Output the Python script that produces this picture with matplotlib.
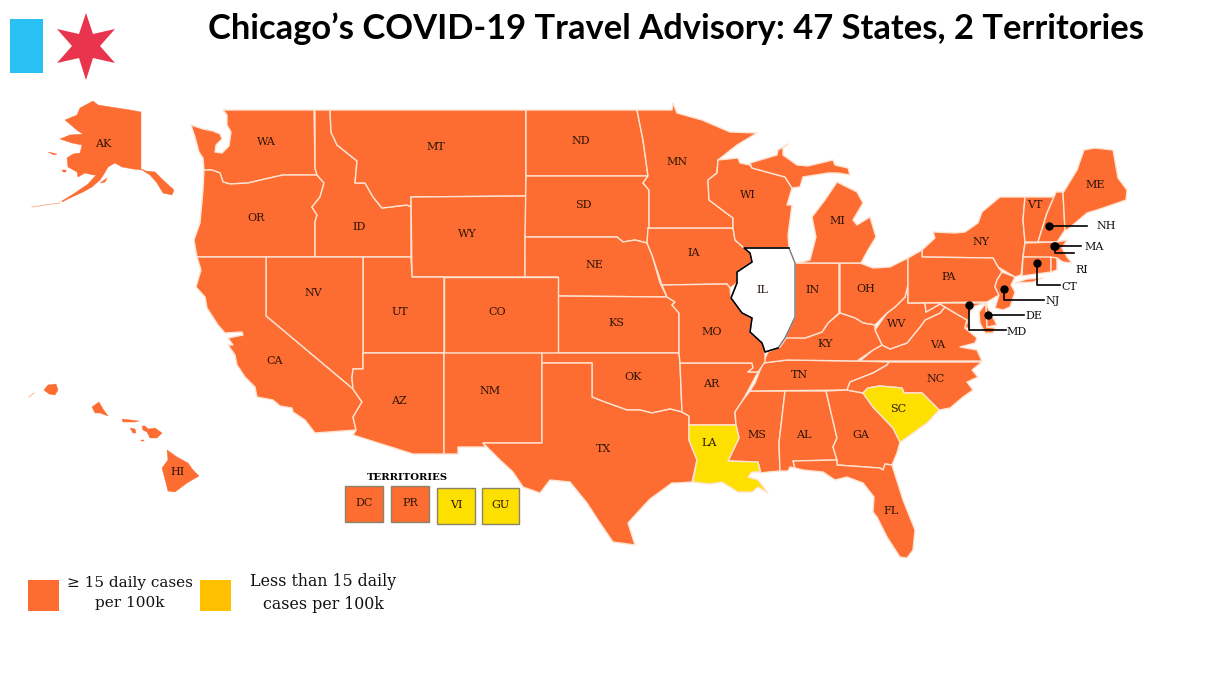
#!/usr/bin/env python3
import matplotlib
matplotlib.use("Agg")
import matplotlib.pyplot as plt
from matplotlib.patches import Rectangle

ORANGE = "#fd6c31"
YELLOW = "#fde000"
BORDER = "#fde3d2"
LABEL = "#2b1408"
SERIF = "DejaVu Serif"

# outlines, in image pixels
WA = [(223,110),(314,110),(315,168),(317,175),(283,175),(265,179),(248,183),(230,184),(223,182),(220,173),(212,170),(204,170),(203,158),(199,152),(195,137),(191,125),(203,129),(213,131),(220,134),(222,139),(216,145),(215,152),(222,153),(229,146),(231,132),(227,125),(227,115)]
OR = [(204,170),(212,170),(220,173),(223,182),(230,184),(248,183),(265,179),(283,175),(317,175),(324,183),(320,197),(312,207),(317,215),(315,222),(315,257),(197,257),(194,240),(200,223),(203,190)]
ID = [(315,110),(330,110),(331,132),(337,145),(357,161),(355,183),(365,183),(373,197),(382,208),(407,205),(411,207),(411,257),(315,257),(315,222),(317,215),(312,207),(320,197),(324,183),(317,175),(315,168)]
MT = [(330,110),(526,110),(526,196),(411,197),(411,207),(407,205),(382,208),(373,197),(365,183),(355,183),(357,161),(337,145),(331,132)]
WY = [(411,197),(526,196),(525,277),(412,277)]
ND = [(526,110),(637,110),(643,140),(648,176),(526,176)]
SD = [(526,176),(648,176),(643,183),(649,190),(649,227),(647,243),(635,240),(623,242),(617,237),(525,237)]
NE = [(525,237),(617,237),(623,242),(635,240),(647,243),(652,255),(660,283),(667,297),(558,296),(558,277),(525,277)]
KS = [(558,296),(667,297),(675,302),(672,305),(679,313),(679,353),(558,353)]
CO = [(444,277),(558,277),(558,353),(444,353)]
UT = [(363,257),(411,257),(412,277),(444,277),(444,353),(363,353)]
NV = [(266,257),(363,257),(363,369),(353,369),(352,378),(353,389),(266,316)]
CA = [(197,257),(266,257),(266,316),(353,389),(362,402),(353,417),(356,430),(315,433),(305,420),(293,412),(292,408),(280,406),(273,400),(257,397),(255,387),(245,377),(237,365),(235,355),(228,345),(233,345),(228,338),(243,335),(242,332),(225,333),(218,325),(207,308),(205,297),(196,287),(201,270)]
AZ = [(363,353),(444,353),(444,454),(413,454),(353,435),(356,430),(353,417),(362,402),(353,389),(352,378),(353,369),(363,369)]
NM = [(444,353),(542,353),(542,443),(483,443),(486,447),(458,447),(458,454),(444,454)]
OK = [(542,353),(679,353),(680,363),(682,412),(670,409),(652,413),(640,410),(627,410),(613,405),(602,401),(592,397),(592,363),(542,363)]
TX = [(542,363),(592,363),(592,397),(602,401),(613,405),(627,410),(640,410),(652,413),(670,409),(682,412),(689,416),(689,440),(697,460),(692,482),(677,483),(672,483),(650,499),(637,513),(628,523),(635,545),(613,542),(600,523),(587,503),(570,482),(550,480),(540,493),(523,487),(513,472),(500,460),(485,445),(483,443),(542,443)]
AR = [(680,363),(752,363),(753,368),(748,372),(758,372),(743,400),(735,412),(736,425),(689,425),(689,416),(682,412)]
LA = [(689,425),(736,425),(739,438),(728,461),(758,462),(760,472),(752,472),(748,477),(758,480),(768,493),(758,487),(752,492),(738,492),(722,482),(710,484),(693,482),(697,460),(689,440)]
MS = [(750,391),(785,391),(779,443),(780,471),(768,472),(761,473),(758,462),(728,461),(739,438),(736,425),(735,412),(743,400)]
TN = [(763,363),(787,360),(857,361),(889,362),(887,365),(873,373),(850,382),(847,390),(750,391),(755,383)]
AL = [(785,391),(826,391),(837,438),(833,447),(837,460),(793,461),(795,468),(790,467),(788,471),(780,471),(779,443)]
GA = [(826,391),(847,390),(863,393),(873,407),(893,428),(900,442),(897,453),(892,465),(885,464),(883,470),(880,468),(837,465),(837,460),(833,447),(837,438)]
FL = [(793,461),(837,460),(837,465),(880,468),(883,470),(885,464),(892,465),(903,500),(915,530),(913,550),(907,558),(900,557),(887,537),(877,517),(873,512),(874,497),(863,483),(847,477),(835,480),(823,472),(803,470),(795,468)]
SC = [(863,393),(868,388),(880,386),(902,388),(904,393),(922,393),(939,410),(927,423),(913,433),(902,441),(900,442),(893,428),(873,407)]
NC = [(889,362),(982,362),(972,370),(978,377),(967,382),(973,390),(963,397),(950,408),(939,410),(922,393),(904,393),(902,388),(880,386),(868,388),(863,393),(847,390),(850,382),(873,373),(887,365)]
VA = [(860,361),(873,350),(882,345),(890,349),(907,343),(920,327),(925,320),(940,313),(945,307),(955,313),(967,320),(965,328),(977,338),(975,343),(960,347),(977,350),(982,361)]
WV = [(908,285),(908,303),(925,303),(926,312),(940,304),(945,307),(940,313),(925,320),(920,327),(907,343),(890,349),(882,345),(875,330),(887,313),(895,307),(905,297)]
OH = [(840,263),(860,263),(873,268),(890,267),(908,258),(908,285),(905,297),(895,307),(887,313),(875,325),(863,323),(855,318),(840,313)]
KY = [(763,363),(787,360),(857,361),(873,350),(882,345),(875,330),(875,325),(863,323),(855,318),(840,313),(828,323),(822,332),(805,338),(787,337),(780,347),(768,352)]
IN = [(795,263),(839,263),(839,313),(828,323),(822,332),(805,338),(785,338),(795,317)]
IL = [(744,248),(789,248),(795,263),(795,317),(785,338),(778,348),(765,352),(762,343),(750,332),(752,318),(742,313),(731,298),(737,283),(737,272),(752,262),(750,253)]
IA = [(648,228),(733,228),(735,240),(744,248),(750,253),(752,262),(737,272),(737,283),(730,288),(727,284),(662,285),(652,255),(647,243)]
MO = [(662,285),(727,284),(730,288),(731,298),(742,313),(752,318),(750,332),(762,343),(765,352),(765,362),(758,372),(748,372),(753,368),(752,363),(680,363),(679,353),(679,313),(672,305),(675,302),(667,297)]
MN = [(637,110),(672,110),(673,103),(677,113),(702,120),(730,132),(757,133),(737,145),(718,160),(717,173),(708,180),(709,200),(733,218),(733,228),(648,228),(649,227),(649,190),(643,183),(648,176),(643,140)]
WI = [(718,160),(738,158),(740,163),(750,165),(752,168),(785,177),(792,188),(787,205),(792,205),(790,220),(788,235),(789,248),(744,248),(735,240),(733,228),(733,218),(709,200),(708,180),(717,173)]
MI_UPPER = [(750,163),(777,155),(778,150),(788,144),(783,148),(783,155),(797,165),(808,166),(833,160),(835,165),(848,168),(850,175),(838,173),(828,173),(803,177),(800,187),(792,188),(785,177),(752,168)]
MI_LOWER = [(837,182),(857,192),(863,203),(853,220),(857,225),(870,217),(876,237),(868,250),(861,263),(797,263),(810,260),(816,237),(812,217),(825,200)]
NY = [(1000,197),(1025,197),(1023,220),(1025,242),(1023,257),(1021,275),(1015,277),(998,267),(993,258),(922,257),(922,250),(935,238),(933,232),(955,233),(965,232),(978,223),(982,212)]
LONG_ISLAND = [(1015,283),(1027,279),(1043,278),(1033,282)]
PA = [(908,258),(922,250),(922,257),(993,258),(998,267),(1002,272),(997,280),(995,287),(999,295),(987,302),(908,303)]
NJ = [(1002,272),(1015,277),(1011,285),(1015,292),(1010,307),(1003,310),(995,308),(999,295),(995,287),(997,280)]
VT = [(1025,197),(1054,197),(1047,213),(1038,242),(1025,242),(1023,220)]
NH = [(1056,192),(1063,192),(1065,230),(1057,242),(1038,242),(1047,213),(1054,197)]
ME = [(1063,193),(1077,170),(1084,150),(1095,148),(1113,150),(1118,178),(1127,190),(1126,200),(1103,208),(1087,213),(1067,230),(1065,230)]
MA = [(1025,243),(1057,242),(1067,240),(1062,248),(1067,257),(1072,263),(1063,262),(1057,258),(1023,257)]
CT = [(1023,257),(1051,257),(1051,272),(1022,276)]
RI = [(1051,257),(1057,258),(1057,270),(1051,272)]
MD = [(925,303),(986,303),(975,306),(970,312),(968,323),(970,328),(965,328),(967,320),(955,313),(945,307),(940,304),(926,312)]
MD_SHORE = [(986,303),(987,327),(995,328),(993,333),(985,333),(980,323),(979,312),(983,307)]
DE = [(986,303),(988,308),(997,325),(987,327)]
AK = [(141,112),(141,169),(146,171),(155,172),(163,180),(174,190),(172,195),(163,193),(157,183),(150,175),(142,170),(133,169),(122,167),(115,163),(108,167),(100,175),(93,175),(85,173),(78,177),(77,172),(68,167),(67,158),(73,154),(80,153),(82,145),(72,143),(60,139),(70,135),(83,134),(78,131),(65,120),(77,115),(80,108),(93,101),(98,105),(117,108),(130,110)]
AK_PENINSULA = [(108,167),(104,174),(100,180),(92,187),(83,192),(70,198),(62,202),(62,201),(75,193),(88,184),(98,173)]
AK_ISLE_1 = [(48,152),(57,154),(54,155),(50,153)]
AK_ISLE_2 = [(62,170),(66,170),(66,172),(63,172)]
AK_ISLE_3 = [(100,183),(107,178),(105,182)]
HI_BIG = [(167,450),(177,457),(188,463),(193,470),(199,476),(187,483),(175,492),(168,491),(166,483),(162,468),(168,460)]
HI_MAUI = [(142,426),(145,426),(148,429),(155,428),(162,433),(157,438),(150,438),(147,432),(143,430)]
HI_MOLOKAI = [(122,419),(139,421),(135,422),(123,422)]
HI_LANAI = [(130,428),(135,429),(136,433),(133,433)]
HI_KAHOOLAWE = [(141,440),(144,440),(144,441),(141,441)]
HI_OAHU = [(92,407),(99,402),(103,409),(108,416),(100,413),(95,413)]
HI_KAUAI = [(44,390),(48,385),(56,384),(58,390),(55,395),(49,394)]
HI_NIIHAU = [(29,397),(34,393)]
AK_ALEUTIANS = [(32,207),(45,205),(60,203)]

ORANGE_SHAPES = [WA, OR, ID, MT, WY, ND, SD, NE, KS, CO, UT, NV, CA, AZ, NM, OK, TX, AR, MS, TN, AL, GA,
                 FL, NC, VA, WV, OH, KY, IN, IA, MO, MN, WI, MI_UPPER, MI_LOWER, NY, LONG_ISLAND, PA, NJ,
                 VT, NH, ME, MA, CT, RI, MD, MD_SHORE, DE]
ISLAND_SHAPES = [AK, AK_PENINSULA, AK_ISLE_1, AK_ISLE_2, AK_ISLE_3,
                 HI_BIG, HI_MAUI, HI_MOLOKAI, HI_LANAI, HI_KAHOOLAWE, HI_OAHU, HI_KAUAI]
THIN_ISLANDS = [AK_ALEUTIANS, HI_NIIHAU]
YELLOW_SHAPES = [LA, SC]

STATE_NAMES = ["AK","WA","OR","ID","MT","WY","NV","UT","CO","CA","AZ","NM","ND","SD","NE","KS","OK","TX","MN",
               "IA","MO","AR","LA","WI","IL","IN","MI","OH","KY","TN","MS","AL","GA","FL","SC","NC","VA","WV",
               "PA","NY","VT","ME","HI"]
STATE_X = [103,266,256,359,436,467,313,400,497,275,399,490,581,583,594,616,633,604,677,
           694,712,711,709,748,762,813,837,866,825,799,757,804,861,891,898,936,938,897,
           949,981,1035,1095,178]
STATE_Y = [144,142,218,227,147,234,293,312,312,361,401,391,141,205,265,323,377,449,162,
           253,332,384,443,195,290,290,221,289,344,375,435,435,435,511,409,379,345,324,
           277,242,205,185,472]

# small north east states, labelled outside the map
LEADER_NAMES = ["NH","MA","RI","CT","NJ","DE","MD"]
LEADER_LABEL_X = [1106,1094,1082,1069,1053,1034,1017]
LEADER_LABEL_Y = [226,247,270,287,301,316,332]
LEADER_LINES = [
    [(1049,226),(1087,226)],
    [(1054,246),(1081,246)],
    [(1055,246),(1055,253),(1074,253)],
    [(1037,263),(1037,285),(1060,285)],
    [(1004,289),(1004,300),(1044,300)],
    [(988,315),(1024,315)],
    [(969,305),(969,330),(1006,330)],
]

TERRITORY_NAMES = ["DC","PR","VI","GU"]
TERRITORY_COLORS = [ORANGE, ORANGE, YELLOW, YELLOW]
TERRITORY_X = [345.3,391.3,437.3,481.5]
TERRITORY_Y = [485.7,485.7,487.7,487.7]

STAR = [(86,13),(93,34),(115,29),(100,46),(115,63),(93,58),(86,80),(79,58),(57,63),(72,46),(57,29),(79,34)]


def main():
    fig = plt.figure(figsize=(12.05, 6.78), dpi=100)
    ax = fig.add_axes([0, 0, 1, 1])
    ax.set_xlim(0, 1205)
    ax.set_ylim(678, 0)
    ax.axis("off")

    for shape in ORANGE_SHAPES:
        ax.fill(*zip(*shape), facecolor=ORANGE, edgecolor=BORDER, linewidth=1.0, joinstyle="round")
    # islands keep no cream edge, they are too small for it
    for shape in ISLAND_SHAPES:
        ax.fill(*zip(*shape), facecolor=ORANGE, edgecolor=ORANGE, linewidth=0.3)
    for shape in THIN_ISLANDS:
        ax.plot(*zip(*shape), color=ORANGE, linewidth=0.6, alpha=0.6)
    for shape in YELLOW_SHAPES:
        ax.fill(*zip(*shape), facecolor=YELLOW, edgecolor=BORDER, linewidth=1.0, joinstyle="round")

    # Illinois is left white, black on the river side
    ax.fill(*zip(*IL), facecolor="white", edgecolor="#777777", linewidth=1.0)
    river = IL[5:] + IL[:2]
    ax.plot(*zip(*river), color="black", linewidth=1.1)

    # flag
    ax.add_patch(Rectangle((10, 19), 33, 54, facecolor="#29c1f3", edgecolor="none"))
    ax.fill(*zip(*STAR), facecolor="#e9344d", edgecolor="none")

    ax.text(676.5, 29, "Chicago\u2019s COVID-19 Travel Advisory: 47 States, 2 Territories",
            family="Lato", weight="bold", fontsize=24.8, color="black", ha="center", va="center")

    for name, x, y in zip(STATE_NAMES, STATE_X, STATE_Y):
        ax.text(x, y, name, family=SERIF, fontsize=8, color=LABEL, ha="center", va="center")

    for line in LEADER_LINES:
        ax.plot(*zip(*line), color="black", linewidth=1.2, zorder=4)
        ax.plot(*line[0], "o", color="black", markersize=5, zorder=5)
    for name, x, y in zip(LEADER_NAMES, LEADER_LABEL_X, LEADER_LABEL_Y):
        ax.text(x, y, name, family=SERIF, fontsize=8, color="#111111", ha="center", va="center")

    ax.text(407, 477, "TERRITORIES", family=SERIF, weight="bold", fontsize=7.3, color="black",
            ha="center", va="center")
    for name, color, x, y in zip(TERRITORY_NAMES, TERRITORY_COLORS, TERRITORY_X, TERRITORY_Y):
        ax.add_patch(Rectangle((x, y), 37.4, 36.6, facecolor=color, edgecolor="#8a8468", linewidth=1.0))
        ax.text(x + 18.7, y + 17.5, name, family=SERIF, fontsize=8, color=LABEL, ha="center", va="center")

    # legend
    ax.add_patch(Rectangle((28, 580), 31, 31, facecolor=ORANGE, edgecolor="none"))
    ax.add_patch(Rectangle((200, 580), 31, 31, facecolor="#ffc000", edgecolor="none"))
    ax.text(130, 593, "\u2265 15 daily cases\nper 100k", family=SERIF, fontsize=11, color="#111111",
            ha="center", va="center", linespacing=1.5)
    ax.text(323, 593, "Less than 15 daily\ncases per 100k", family=SERIF, fontsize=11.4, color="#111111",
            ha="center", va="center", linespacing=1.4)

    fig.savefig("out.png", dpi=100, facecolor="white")


if __name__ == "__main__":
    main()
